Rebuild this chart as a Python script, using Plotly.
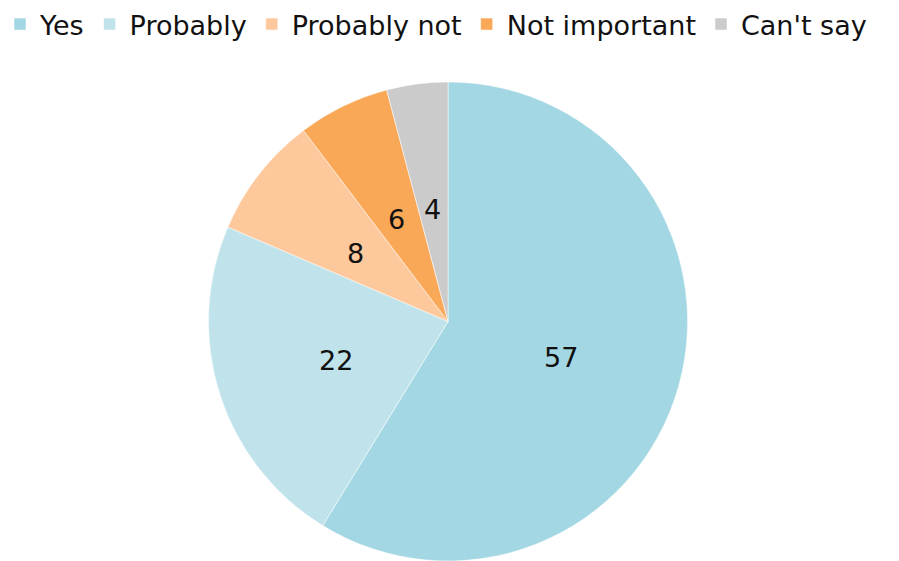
import math
import plotly.graph_objects as go

labels = ["Yes", "Probably", "Probably not", "Not important", "Can't say"]
values = [57, 22, 8, 6, 4]
colors = ["#A3D7E3", "#C0E3EB", "#FDC99C", "#F9A857", "#CBCBCB"]

FONT = "Verdana, DejaVu Sans, sans-serif"
dom_x = [0.2314, 0.7653]
dom_y = [0.0, 0.854]

fig = go.Figure()
fig.add_trace(go.Pie(
    labels=labels,
    values=values,
    sort=False,
    direction="clockwise",
    rotation=0,
    marker=dict(colors=colors, line=dict(color="white", width=0.5)),
    textinfo="none",
    domain=dict(x=dom_x, y=dom_y),
    hoverinfo="label+value",
))

# value labels placed at half radius, angle derived from the values,
# positioned through a hidden axis pair covering the pie's unit circle
total = sum(values)
cum = 0
for v in values:
    ang = math.radians((cum + v / 2) / total * 360)
    cum += v
    fig.add_annotation(
        x=0.49 * math.sin(ang), y=0.49 * math.cos(ang),
        xref="x", yref="y",
        text=str(v), showarrow=False, yshift=-4,
        font=dict(size=27, color="#111111", family=FONT),
    )

fig.update_layout(
    width=899, height=561,
    margin=dict(l=0, r=0, t=0, b=0),
    paper_bgcolor="white",
    plot_bgcolor="rgba(0,0,0,0)",
    font=dict(family=FONT, size=27, color="#111111"),
    showlegend=True,
    xaxis=dict(domain=dom_x, range=[-1, 1], visible=False, fixedrange=True),
    yaxis=dict(domain=dom_y, range=[-1, 1], visible=False, fixedrange=True),
    legend=dict(
        orientation="h",
        x=0, xanchor="left",
        y=1, yanchor="top",
        font=dict(size=27),
        itemwidth=30,
        traceorder="normal",
    ),
)

fig.write_html("out.html", config={"displayModeBar": False},
               post_script="document.body.style.margin='0';")
